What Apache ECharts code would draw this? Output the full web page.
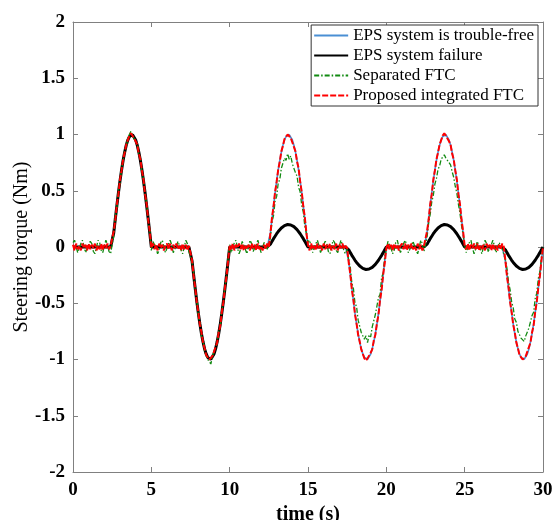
<!DOCTYPE html>
<html>
<head>
<meta charset="utf-8">
<script src="https://cdn.jsdelivr.net/npm/echarts@6/dist/echarts.min.js"></script>
<style>html,body{margin:0;padding:0;background:#fff}#c{width:555px;height:520px}</style>
</head>
<body>
<div id="c"></div>
<script>
// Sample spacing of the curves (s)
const timeStep = 0.1;
const xTicks = [0, 5, 10, 15, 20, 25, 30];
const yTicks = [-2, -1.5, -1, -0.5, 0, 0.5, 1, 1.5, 2];
const seriesNames = ['EPS system is trouble-free', 'EPS system failure', 'Separated FTC', 'Proposed integrated FTC'];

// EPS system is trouble-free (each row = 2.5 s, last value at t = 30 s)
const troubleFree = [
0,0,0,0,0,0,0,0,0,0,0,0,0,0,0,0,0,0,0,0,0,0,0,0,0,
0,0.125,0.249,0.368,0.482,0.588,0.685,0.771,0.844,0.905,0.951,0.982,0.998,0.998,0.982,0.951,0.905,0.844,0.771,0.685,0.588,0.482,0.368,0.249,0.125,
0,0,0,0,0,0,0,0,0,0,0,0,0,0,0,0,0,0,0,0,0,0,0,0,0,
0,-0.125,-0.249,-0.368,-0.482,-0.588,-0.685,-0.771,-0.844,-0.905,-0.951,-0.982,-0.998,-0.998,-0.982,-0.951,-0.905,-0.844,-0.771,-0.685,-0.588,-0.482,-0.368,-0.249,-0.125,
0,0,0,0,0,0,0,0,0,0,0,0,0,0,0,0,0,0,0,0,0,0,0,0,0,
0,0.125,0.249,0.368,0.482,0.588,0.685,0.771,0.844,0.905,0.951,0.982,0.998,0.998,0.982,0.951,0.905,0.844,0.771,0.685,0.588,0.482,0.368,0.249,0.125,
0,0,0,0,0,0,0,0,0,0,0,0,0,0,0,0,0,0,0,0,0,0,0,0,0,
0,-0.125,-0.249,-0.368,-0.482,-0.588,-0.685,-0.771,-0.844,-0.905,-0.951,-0.982,-0.998,-0.998,-0.982,-0.951,-0.905,-0.844,-0.771,-0.685,-0.588,-0.482,-0.368,-0.249,-0.125,
0,0,0,0,0,0,0,0,0,0,0,0,0,0,0,0,0,0,0,0,0,0,0,0,0,
0,0.125,0.249,0.368,0.482,0.588,0.685,0.771,0.844,0.905,0.951,0.982,0.998,0.998,0.982,0.951,0.905,0.844,0.771,0.685,0.588,0.482,0.368,0.249,0.125,
0,0,0,0,0,0,0,0,0,0,0,0,0,0,0,0,0,0,0,0,0,0,0,0,0,
0,-0.125,-0.249,-0.368,-0.482,-0.588,-0.685,-0.771,-0.844,-0.905,-0.951,-0.982,-0.998,-0.998,-0.982,-0.951,-0.905,-0.844,-0.771,-0.685,-0.588,-0.482,-0.368,-0.249,-0.125,
0
];

// EPS system failure
const failure = [
0,0,0,0,0,0,0,0,0,0,0,0,0,0,0,0,0,0,0,0,0,0,0,0,0,
0,0.125,0.249,0.368,0.482,0.588,0.685,0.771,0.844,0.905,0.951,0.982,0.998,0.998,0.982,0.951,0.905,0.844,0.771,0.685,0.588,0.482,0.368,0.249,0.125,
0,0,0,0,0,0,0,0,0,0,0,0,0,0,0,0,0,0,0,0,0,0,0,0,0,
0,-0.125,-0.249,-0.368,-0.482,-0.588,-0.685,-0.771,-0.844,-0.905,-0.951,-0.982,-0.998,-0.998,-0.982,-0.951,-0.905,-0.844,-0.771,-0.685,-0.588,-0.482,-0.368,-0.249,-0.125,
0,0,0,0,0,0,0,0,0,0,0,0,0,0,0,0,0,0,0,0,0,0,0,0,0,
0,0.025,0.05,0.074,0.096,0.118,0.137,0.154,0.169,0.181,0.19,0.196,0.2,0.2,0.196,0.19,0.181,0.169,0.154,0.137,0.118,0.096,0.074,0.05,0.025,
0,0,0,0,0,0,0,0,0,0,0,0,0,0,0,0,0,0,0,0,0,0,0,0,0,
0,-0.025,-0.05,-0.074,-0.096,-0.118,-0.137,-0.154,-0.169,-0.181,-0.19,-0.196,-0.2,-0.2,-0.196,-0.19,-0.181,-0.169,-0.154,-0.137,-0.118,-0.096,-0.074,-0.05,-0.025,
0,0,0,0,0,0,0,0,0,0,0,0,0,0,0,0,0,0,0,0,0,0,0,0,0,
0,0.025,0.05,0.074,0.096,0.118,0.137,0.154,0.169,0.181,0.19,0.196,0.2,0.2,0.196,0.19,0.181,0.169,0.154,0.137,0.118,0.096,0.074,0.05,0.025,
0,0,0,0,0,0,0,0,0,0,0,0,0,0,0,0,0,0,0,0,0,0,0,0,0,
0,-0.025,-0.05,-0.074,-0.096,-0.118,-0.137,-0.154,-0.169,-0.181,-0.19,-0.196,-0.2,-0.2,-0.196,-0.19,-0.181,-0.169,-0.154,-0.137,-0.118,-0.096,-0.074,-0.05,-0.025,
0
];

// Separated FTC
const separated = [
0.04,0.06,0.0,-0.05,-0.04,0.03,0.06,0.01,-0.05,-0.06,0.02,0.05,0.03,-0.04,-0.06,0.0,0.06,0.04,-0.03,-0.05,0.01,0.06,0.02,-0.04,-0.06,
0.02,0.1,0.27,0.35,0.5,0.57,0.7,0.76,0.86,0.89,0.97,0.97,1.03,0.99,1.0,0.94,0.92,0.83,0.79,0.67,0.6,0.46,0.39,0.23,0.15,
-0.03,0.05,0.06,-0.01,-0.06,-0.03,0.04,0.06,0.0,-0.05,-0.04,0.03,0.06,0.02,-0.05,-0.06,0.01,0.05,0.04,-0.03,-0.06,0.0,0.06,0.03,-0.04,
-0.03,-0.14,-0.23,-0.39,-0.46,-0.61,-0.67,-0.79,-0.83,-0.93,-0.94,-1.0,-0.99,-1.04,-0.97,-0.97,-0.89,-0.86,-0.75,-0.71,-0.56,-0.5,-0.35,-0.27,-0.1,
0.02,-0.05,-0.04,0.04,0.06,-0.01,-0.06,-0.02,0.05,0.05,-0.02,-0.06,0.0,0.06,0.03,-0.04,-0.05,0.02,0.06,0.01,-0.05,-0.04,0.04,0.05,-0.02,
0.03,0.08,0.22,0.28,0.41,0.45,0.57,0.6,0.7,0.71,0.79,0.77,0.83,0.78,0.81,0.74,0.74,0.66,0.63,0.53,0.49,0.37,0.31,0.18,0.12,
0.04,0.06,0.0,-0.05,-0.04,0.03,0.06,0.01,-0.05,-0.06,0.02,0.05,0.03,-0.04,-0.06,0.0,0.06,0.04,-0.03,-0.05,0.01,0.06,0.02,-0.04,-0.06,
-0.02,-0.12,-0.18,-0.32,-0.37,-0.5,-0.53,-0.65,-0.66,-0.76,-0.75,-0.82,-0.79,-0.85,-0.78,-0.8,-0.71,-0.72,-0.6,-0.59,-0.45,-0.42,-0.27,-0.23,-0.08,
-0.03,0.05,0.06,-0.01,-0.06,-0.03,0.04,0.06,0.0,-0.05,-0.04,0.03,0.06,0.02,-0.05,-0.06,0.01,0.05,0.04,-0.03,-0.06,0.0,0.06,0.03,-0.04,
0.02,0.09,0.21,0.29,0.4,0.46,0.56,0.61,0.69,0.72,0.78,0.78,0.82,0.79,0.8,0.75,0.73,0.67,0.62,0.54,0.48,0.38,0.3,0.19,0.11,
0.02,-0.05,-0.04,0.04,0.06,-0.01,-0.06,-0.02,0.05,0.05,-0.02,-0.06,0.0,0.06,0.03,-0.04,-0.05,0.02,0.06,0.01,-0.05,-0.04,0.04,0.05,-0.02,
-0.03,-0.11,-0.19,-0.31,-0.38,-0.49,-0.54,-0.64,-0.67,-0.75,-0.76,-0.81,-0.8,-0.84,-0.79,-0.79,-0.72,-0.71,-0.61,-0.58,-0.46,-0.41,-0.28,-0.22,-0.09,
0
];

// Proposed integrated FTC
const proposed = [
0.02,-0.03,0.03,-0.02,0.01,-0.03,0.03,-0.01,0.02,-0.03,0.03,-0.02,0.02,-0.01,0.03,-0.03,0.01,-0.02,0.03,-0.03,0.02,-0.01,0.03,-0.02,0.01,
0.01,0.14,0.24,0.38,0.47,0.6,0.68,0.78,0.84,0.91,0.95,0.99,1.01,0.99,0.99,0.94,0.91,0.83,0.78,0.68,0.6,0.47,0.38,0.24,0.14,
-0.01,0.03,-0.02,0.02,-0.03,0.03,-0.01,0.02,-0.03,0.01,0.03,-0.02,0.03,-0.03,0.02,-0.01,0.03,-0.02,0.01,-0.03,0.03,-0.02,0.02,-0.03,0.01,
0,-0.12,-0.26,-0.36,-0.49,-0.58,-0.69,-0.76,-0.85,-0.9,-0.96,-0.97,-1.0,-1.01,-0.97,-0.96,-0.89,-0.85,-0.76,-0.7,-0.58,-0.49,-0.36,-0.26,-0.12,
0.01,-0.02,0.03,-0.03,0.02,-0.01,0.03,-0.02,0.03,-0.03,0.01,-0.02,0.02,-0.03,0.03,-0.01,0.02,-0.03,0.03,-0.02,0.01,-0.03,0.02,-0.02,0.03,
0,0.12,0.26,0.36,0.49,0.58,0.69,0.76,0.85,0.9,0.96,0.97,1.0,1.01,0.97,0.96,0.89,0.85,0.76,0.7,0.58,0.49,0.36,0.26,0.12,
0.02,-0.03,0.03,-0.02,0.01,-0.03,0.03,-0.01,0.02,-0.03,0.03,-0.02,0.02,-0.01,0.03,-0.03,0.01,-0.02,0.03,-0.03,0.02,-0.01,0.03,-0.02,0.01,
-0.01,-0.14,-0.24,-0.38,-0.47,-0.6,-0.68,-0.78,-0.84,-0.91,-0.95,-0.99,-1.01,-0.99,-0.99,-0.94,-0.91,-0.83,-0.78,-0.68,-0.6,-0.47,-0.38,-0.24,-0.14,
-0.01,0.03,-0.02,0.02,-0.03,0.03,-0.01,0.02,-0.03,0.01,0.03,-0.02,0.03,-0.03,0.02,-0.01,0.03,-0.02,0.01,-0.03,0.03,-0.02,0.02,-0.03,0.01,
0.01,0.14,0.24,0.38,0.47,0.6,0.68,0.78,0.84,0.91,0.95,0.99,1.01,0.99,0.99,0.94,0.91,0.83,0.78,0.68,0.6,0.47,0.38,0.24,0.14,
0.01,-0.02,0.03,-0.03,0.02,-0.01,0.03,-0.02,0.03,-0.03,0.01,-0.02,0.02,-0.03,0.03,-0.01,0.02,-0.03,0.03,-0.02,0.01,-0.03,0.02,-0.02,0.03,
0,-0.12,-0.26,-0.36,-0.49,-0.58,-0.69,-0.76,-0.85,-0.9,-0.96,-0.97,-1.0,-1.01,-0.97,-0.96,-0.89,-0.85,-0.76,-0.7,-0.58,-0.49,-0.36,-0.26,-0.12,
0
];

const time = troubleFree.map((_, i) => Math.round(i * timeStep * 10) / 10);
const pairs = arr => arr.map((v, i) => [time[i], v]);

const FONT = '"Liberation Serif", "Times New Roman", serif';
const AXIS_COLOR = '#808080';

const chart = echarts.init(document.getElementById('c'), null, {renderer: 'canvas'});

const baseX = {
  type: 'value', min: xTicks[0], max: xTicks[xTicks.length - 1], interval: xTicks[1] - xTicks[0],
  axisLine: {show: true, onZero: false, lineStyle: {color: AXIS_COLOR, width: 1}},
  axisTick: {show: true, inside: true, length: 5, lineStyle: {color: AXIS_COLOR}},
  splitLine: {show: false}
};
const baseY = {
  type: 'value', min: yTicks[0], max: yTicks[yTicks.length - 1], interval: yTicks[1] - yTicks[0],
  axisLine: {show: true, onZero: false, lineStyle: {color: AXIS_COLOR, width: 1}},
  axisTick: {show: true, inside: true, length: 5, lineStyle: {color: AXIS_COLOR}},
  splitLine: {show: false}
};

chart.setOption({
  animation: false,
  backgroundColor: '#fff',
  grid: {left: 73, right: 12, top: 22, bottom: 48, containLabel: false, outerBoundsMode: 'none'},
  legend: {
    orient: 'vertical', right: 17, top: 25,
    data: seriesNames,
    backgroundColor: '#fff', borderColor: '#333', borderWidth: 1,
    padding: [2, 4, 2, 2],
    itemWidth: 34, itemHeight: 14, itemGap: 3,
    itemStyle: {opacity: 0},
    textStyle: {fontFamily: FONT, fontSize: 17, color: '#000'}
  },
  xAxis: [
    Object.assign({}, baseX, {
      position: 'bottom',
      name: 'time (s)', nameLocation: 'middle', nameGap: 30,
      nameTextStyle: {fontFamily: FONT, fontSize: 20, fontWeight: 'bold', color: '#000'},
      axisLabel: {fontFamily: FONT, fontSize: 19, fontWeight: 'bold', color: '#000', margin: 9}
    }),
    Object.assign({}, baseX, {position: 'top', axisLabel: {show: false}})
  ],
  yAxis: [
    Object.assign({}, baseY, {
      position: 'left',
      name: 'Steering torque (Nm)', nameLocation: 'middle', nameGap: 41, nameMoveOverlap: false,
      nameTextStyle: {fontFamily: FONT, fontSize: 20, color: '#000'},
      axisLabel: {fontFamily: FONT, fontSize: 19, fontWeight: 'bold', color: '#000', margin: 8}
    }),
    Object.assign({}, baseY, {position: 'right', axisLabel: {show: false}})
  ],
  series: [
    {name: seriesNames[0], type: 'line', data: pairs(troubleFree), symbol: 'none', z: 2,
     color: '#4a8fd4', lineStyle: {color: '#4a8fd4', width: 1.6}},
    {name: seriesNames[1], type: 'line', data: pairs(failure), symbol: 'none', z: 3,
     color: '#000', lineStyle: {color: '#000', width: 3}},
    {name: seriesNames[2], type: 'line', data: pairs(separated), symbol: 'none', z: 4,
     color: '#118a11', lineStyle: {color: '#118a11', width: 1.3, type: [5, 2, 1.5, 2]}},
    {name: seriesNames[3], type: 'line', data: pairs(proposed), symbol: 'none', z: 5,
     color: '#ff0000', lineStyle: {color: '#ff0000', width: 2, type: [6, 2]}}
  ]
});
</script>
</body>
</html>
